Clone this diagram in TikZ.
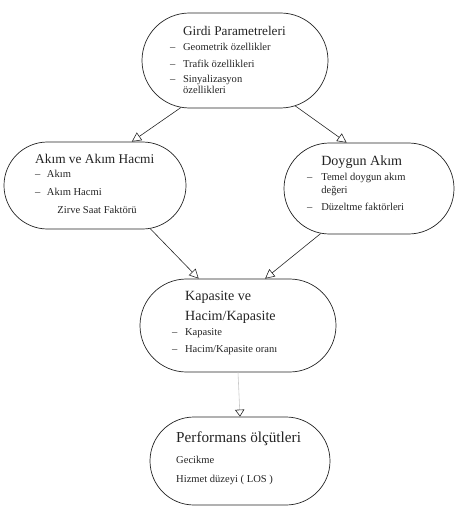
\documentclass[tikz,border=0pt]{standalone}
\usepackage{fontspec}
\setmainfont{Liberation Serif}
\usetikzlibrary{arrows.meta,shapes.misc}
\definecolor{inkgray}{RGB}{35, 35, 35}
\definecolor{fadegray}{RGB}{200, 200, 200}
\newcommand{\ttl}[2][12]{{\fontsize{#1}{10}\selectfont #2}}
\newcommand{\dsh}[1][11pt]{\makebox[#1][l]{--}}
\tikzset{
  stage/.style={draw=inkgray, line width=0.6pt, rounded rectangle, inner sep=0pt},
  blurb/.style={anchor=north west, inner sep=0pt, align=left, text=inkgray,
                font=\fontsize{9}{10}\selectfont},
  flow/.style={draw=inkgray, line width=0.5pt,
               -{Triangle[open, length=8pt, width=8pt]}},
  fadeflow/.style={draw=fadegray, line width=0.5pt,
                   -{Triangle[open, length=6pt, width=8pt, color=inkgray]}},
}

\begin{document}
\begin{tikzpicture}[x=0.03cm, y=-0.03cm]
  \useasboundingbox (0,0) rectangle (459,510);
  % stages
  \node[stage, minimum width=5.58cm, minimum height=2.85cm] (girdi)      at (235,60.5)  {};
  \node[stage, minimum width=5.46cm, minimum height=2.61cm] (akim)       at (95,185.5)  {};
  \node[stage, minimum width=5.10cm, minimum height=2.73cm] (doygun)     at (369,188.5) {};
  \node[stage, minimum width=5.88cm, minimum height=2.79cm] (kapasite)   at (238,325.5) {};
  \node[stage, minimum width=5.40cm, minimum height=2.64cm] (performans) at (240,461)   {};
  % texts
  \node[blurb] (girdi-t) at (170,26) {\hspace*{11pt}\ttl[11.3]{Girdi Parametreleri}\\[2.6pt]
        \dsh Geometrik özellikler\\[4.5pt]
        \dsh Trafik özellikleri\\[2.8pt]
        \dsh Sinyalizasyon\\[-0.6pt]
        \hspace*{11pt}özellikleri};
  \node[blurb] (akim-t) at (35,154) {\ttl[11.4]{Akım ve Akım Hacmi}\\[1.9pt]
        \dsh[10pt]Akım\\[5.3pt]
        \dsh[10pt]Akım Hacmi\\[5.3pt]
        \hspace*{19pt}Zirve Saat Faktörü};
  \node[blurb] (doygun-t) at (307,156) {\hspace*{12pt}\ttl{Doygun Akım}\\[2.8pt]
        \dsh[12pt]Temel doygun akım\\[1pt]
        \hspace*{12pt}değeri\\[4.5pt]
        \dsh[12pt]Düzeltme faktörleri};
  \node[blurb] (kapasite-t) at (172,291) {\hspace*{11pt}\ttl[12]{Kapasite ve}\\[5.3pt]
        \hspace*{11pt}\ttl[12]{Hacim/Kapasite}\\[3.2pt]
        \dsh Kapasite\\[4pt]
        \dsh Hacim/Kapasite oranı};
  \node[blurb] (performans-t) at (176,432) {\ttl[13]{Performans ölçütleri}\\[7.9pt]
        Gecikme\\[6.2pt]
        Hizmet düzeyi ( LOS )};
  % links
  \draw[flow]     (girdi.221)      -- (akim.50);
  \draw[flow]     (girdi.323)      -- (doygun.116);
  \draw[flow]     (akim.322)       -- (kapasite.130);
  \draw[flow]     (doygun.223)     -- (kapasite.60);
  \draw[fadeflow] (kapasite.south) -- (performans.north);
\end{tikzpicture}
\end{document}
